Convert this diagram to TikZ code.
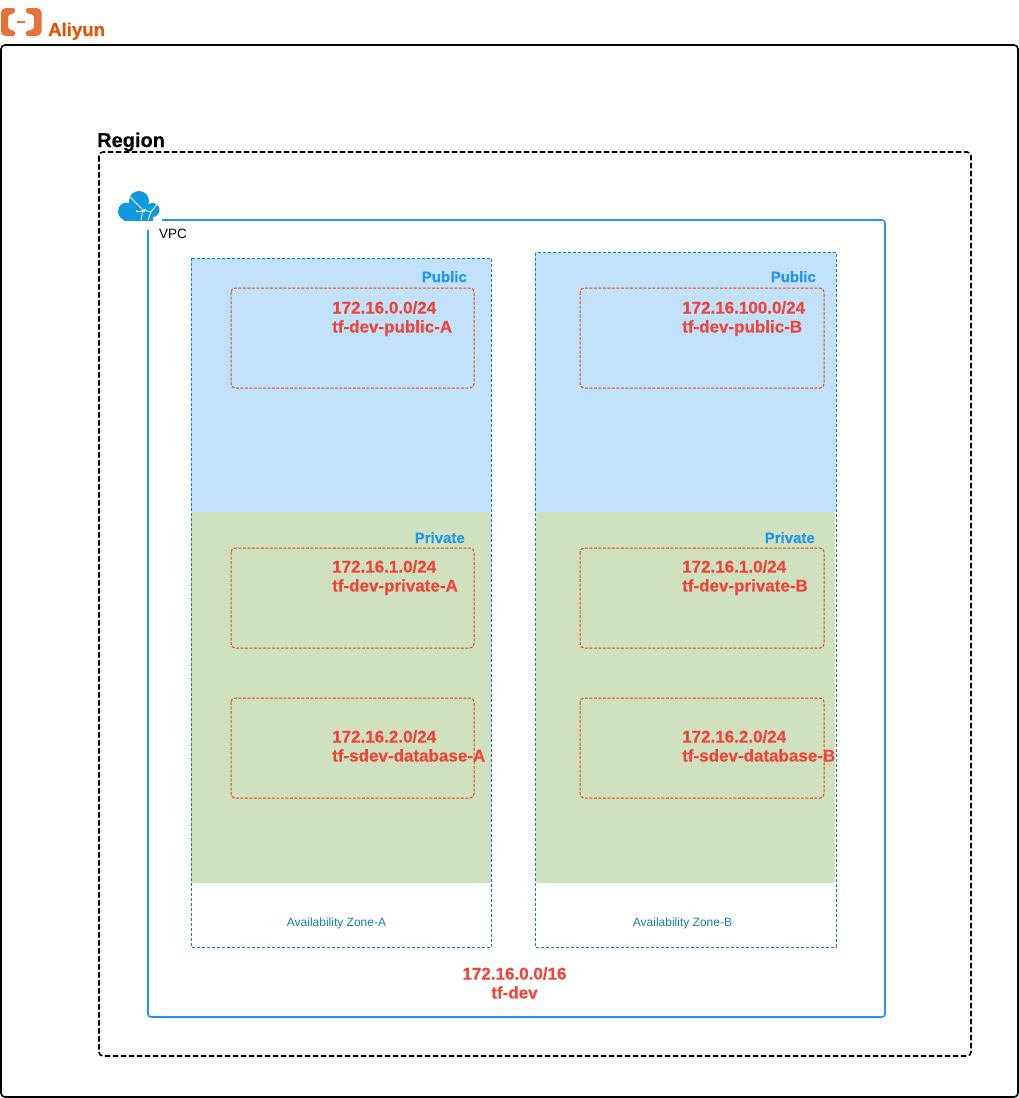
\documentclass[tikz,border=0pt]{standalone}
\usepackage{fontspec}
\setmainfont[BoldFeatures={FakeBold=0.25}]{Liberation Sans}
\definecolor{vpcblue}{HTML}{2196F3}
\definecolor{zoneblue}{HTML}{147EBA}
\definecolor{pubfill}{HTML}{C2E1FD}
\definecolor{privfill}{HTML}{D0E1C0}
\definecolor{subred}{HTML}{F44336}
\definecolor{suborange}{HTML}{E65100}
\definecolor{logoor}{HTML}{E8703A}
\definecolor{cloudblue}{HTML}{1298DE}
\tikzset{
  outerbox/.style={draw=black,line width=1.6pt,rounded corners=4pt},
  regionbox/.style={draw=black,line width=1.6pt,rounded corners=4pt,dash pattern=on 5.5pt off 2.5pt},
  vpcline/.style={draw=vpcblue,line width=1.6pt,rounded corners=3pt},
  zonebox/.style={draw=zoneblue,line width=1pt,dash pattern=on 3pt off 2pt},
  pubarea/.style={fill=pubfill,rounded corners=1pt},
  privarea/.style={fill=privfill,rounded corners=2pt},
  subnetbox/.style={draw=suborange,line width=1pt,rounded corners=4pt,dash pattern=on 3pt off 1.5pt},
  redlabel/.style={text=subred,font=\fontsize{17}{19}\selectfont\bfseries,align=left,anchor=north west,inner sep=0pt},
  arealabel/.style={text=vpcblue,font=\fontsize{15}{18}\selectfont\bfseries,inner sep=0pt},
  zonelabel/.style={text=zoneblue,font=\fontsize{12}{14}\selectfont,inner sep=0pt},
}
\begin{document}
\begin{tikzpicture}[x=1pt,y=-1pt]
\useasboundingbox (0,0) rectangle (1019,1098);
% outer
\draw[outerbox] (1,45) rectangle (1018,1097);
% logo
\fill[logoor,rounded corners=1.5pt] (15,8) -- (4,8) -- (1,11) -- (1,33) -- (4,36) -- (15,36) -- (15,31) -- (9,29.5) -- (8,28) -- (8,16) -- (9,14.5) -- (15,13) -- cycle;
\fill[logoor,rounded corners=1.5pt] (26,8) -- (38,8) -- (41.5,11) -- (41.5,33) -- (38,36) -- (26,36) -- (26,31) -- (33,29.5) -- (34,28) -- (34,16) -- (33,14.5) -- (26,13) -- cycle;
\fill[logoor] (17,21) rectangle (25,22.5);
\node[text=suborange,font=\fontsize{18.6}{20}\selectfont\bfseries,anchor=base west,inner sep=0pt] (aliyun) at (48,36) {Aliyun};
% region
\draw[regionbox] (99,152) rectangle (971,1056);
\node[font=\fontsize{20}{22}\selectfont\bfseries,anchor=base west,inner sep=0pt] (region) at (97,147) {Region};
% vpc
\draw[vpcline] (162,220) -- (885,220) -- (885,1017) -- (148,1017) -- (148,230);
% cloud
\fill[cloudblue] (127,211.5) circle (9) (139,201) circle (10) (152.5,210) circle (7) (149,214.5) circle (5.5);
\fill[cloudblue] (124,212) rectangle (153,220.5);
\draw[white,line width=.8pt] (129,196) -- (143,210) -- (151,212) -- (158,203) (151,212) -- (148,220) (143,210) -- (141,220);
\node[font=\fontsize{13.5}{15}\selectfont,anchor=base west,inner sep=0pt] (vpc) at (159,238) {VPC};
% zone A
\fill[pubarea] (191,258) rectangle (491,512);
\fill[privarea] (191,512) rectangle (491,883);
\draw[zonebox] (191,258) rectangle (491.5,947);
% zone B
\fill[pubarea] (535,252) rectangle (836,512);
\fill[privarea] (536,512) rectangle (835,883);
\draw[zonebox] (535.5,252.5) rectangle (836,947);
% subnets A
\draw[subnetbox] (231,288) rectangle (474,388);
\draw[subnetbox] (231,548) rectangle (474,648);
\draw[subnetbox] (231,698) rectangle (474,798);
% subnets B
\draw[subnetbox] (580,288) rectangle (824,388);
\draw[subnetbox] (580,548) rectangle (824,648);
\draw[subnetbox] (580,698) rectangle (824,798);
% area labels
\node[arealabel,anchor=base east] (pubA) at (467,282) {Public};
\node[arealabel,anchor=base east] (pubB) at (816,282) {Public};
\node[arealabel,anchor=base east] (privA) at (465,543) {Private};
\node[arealabel,anchor=base east] (privB) at (815,543) {Private};
% subnet labels
\node[redlabel] (sa1) at (332,301) {172.16.0.0/24\\tf-dev-public-A};
\node[redlabel] (sb1) at (682,301) {172.16.100.0/24\\tf-dev-public-B};
\node[redlabel] (sa2) at (332,560) {172.16.1.0/24\\tf-dev-private-A};
\node[redlabel] (sb2) at (682,560) {172.16.1.0/24\\tf-dev-private-B};
\node[redlabel] (sa3) at (332,730) {172.16.2.0/24\\tf-sdev-database-A};
\node[redlabel] (sb3) at (682,730) {172.16.2.0/24\\tf-sdev-database-B};
% zone labels
\node[zonelabel] (za) at (336.5,923) {Availability Zone-A};
\node[zonelabel] (zb) at (682.5,923) {Availability Zone-B};
% vpc cidr
\node[redlabel,anchor=north,align=center] (cidr) at (514.5,967) {172.16.0.0/16\\tf-dev};
\end{tikzpicture}
\end{document}
